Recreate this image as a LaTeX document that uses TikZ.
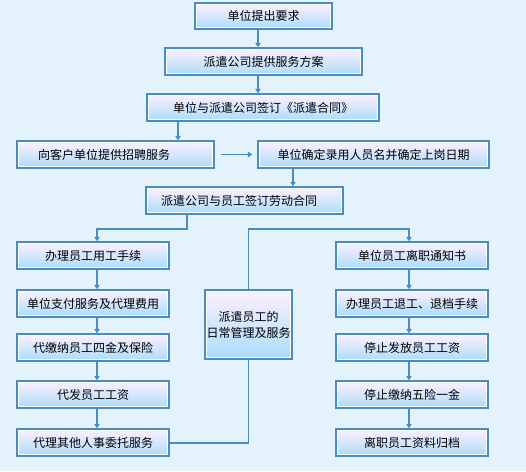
\documentclass[tikz,border=0pt]{standalone}
\usepackage{fontspec}
\setmainfont{Noto Sans CJK SC}
\usetikzlibrary{arrows.meta,calc}
\definecolor{bgc}{RGB}{228,242,252}
\definecolor{edge}{RGB}{72,140,192}
\definecolor{topc}{RGB}{253,240,253}
\definecolor{botc}{RGB}{170,220,252}
\tikzset{
  box/.style={draw=edge, line width=1.5pt, top color=topc, bottom color=botc,
    inner sep=0pt, font=\fontsize{12pt}{16pt}\selectfont, align=center,
    path picture={\draw[white,line width=1pt]
      ([shift={(1.6pt,-1.6pt)}]path picture bounding box.north west) rectangle
      ([shift={(-1.6pt,1.6pt)}]path picture bounding box.south east);}},
  conn/.style={draw=edge, line width=1.5pt},
  arr/.style={conn, -{Triangle[width=5.5pt,length=4.5pt]}},
}
\newcommand{\bx}[6]{%
  \node[box, minimum width={(#4)-(#2)}, minimum height={(#5)-(#3)}]
    (#1) at ({((#2)+(#4))/2},{((#3)+(#5))/2}) {#6};}
\begin{document}
\begin{tikzpicture}[x=1pt,y=-1pt]
\fill[bgc] (0,0) rectangle (526,471);
\useasboundingbox (0,0) rectangle (526,471);
\bx{b1}{195}{3}{332}{29}{单位提出要求}
\bx{b2}{165}{48}{362}{75}{派遣公司提供服务方案}
\bx{b3}{147}{94}{379}{121}{单位与派遣公司签订《派遣合同》}
\bx{b4l}{17}{141}{214}{168}{\makebox[197pt][l]{\hspace{21pt}向客户单位提供招聘服务}}
\bx{b4r}{258}{141}{489}{168}{单位确定录用人员名并确定上岗日期}
\bx{b5}{146}{187}{343}{214}{\makebox[197pt][l]{\hspace{15pt}派遣公司与员工签订劳动合同}}
\bx{l1}{17}{242}{169}{269}{办理员工用工手续}
\bx{l2}{17}{290}{169}{317}{单位支付服务及代理费用}
\bx{l3}{17}{334}{169}{361}{代缴纳员工四金及保险}
\bx{l4}{17}{381}{169}{408}{代发员工工资}
\bx{l5}{17}{429}{169}{456}{代理其他人事委托服务}
\bx{m}{205}{290}{292}{359}{派遣员工的\\日常管理及服务}
\bx{r1}{336}{242}{488}{269}{单位员工离职通知书}
\bx{r2}{336}{290}{488}{317}{办理员工退工、退档手续}
\bx{r3}{336}{334}{488}{361}{停止发放员工工资}
\bx{r4}{336}{381}{488}{408}{停止缴纳五险一金}
\bx{r5}{336}{429}{488}{456}{离职员工资料归档}
\coordinate (xa) at (258,0);
\coordinate (xb) at (178,0);
\coordinate (xc) at (293,0);
\coordinate (xd) at (187,229);
\coordinate (xe) at (97,229);
\coordinate (xf) at (248.5,229);
\coordinate (xg) at (409,229);
\coordinate (xh) at (248.5,443);
\draw[arr] (b1.south -| xa) -- (b2.north -| xa);
\draw[arr] (b2.south -| xa) -- (b3.north -| xa);
\draw[arr] (b3.south -| xb) -- (b4l.north -| xb);
\draw[arr] ([xshift=6pt]b4l.east) -- ([xshift=-5pt]b4r.west);
\draw[arr] (b4r.south -| xc) -- (b5.north -| xc);
\draw[arr] (b5.south -| xd) -- (xd) -- (xe) -- (l1.north -| xe);
\draw[arr] (l1.south -| xe) -- (l2.north -| xe);
\draw[arr] (l2.south -| xe) -- (l3.north -| xe);
\draw[arr] (l3.south -| xe) -- (l4.north -| xe);
\draw[arr] (l4.south -| xe) -- (l5.north -| xe);
\draw[conn] (l5.east |- xh) -- (xh) -- (m.south -| xh);
\draw[arr] (m.north -| xf) -- (xf) -- (xg) -- (r1.north -| xg);
\draw[arr] (r1.south -| xg) -- (r2.north -| xg);
\draw[arr] (r2.south -| xg) -- (r3.north -| xg);
\draw[arr] (r3.south -| xg) -- (r4.north -| xg);
\draw[arr] (r4.south -| xg) -- (r5.north -| xg);
\end{tikzpicture}
\end{document}
